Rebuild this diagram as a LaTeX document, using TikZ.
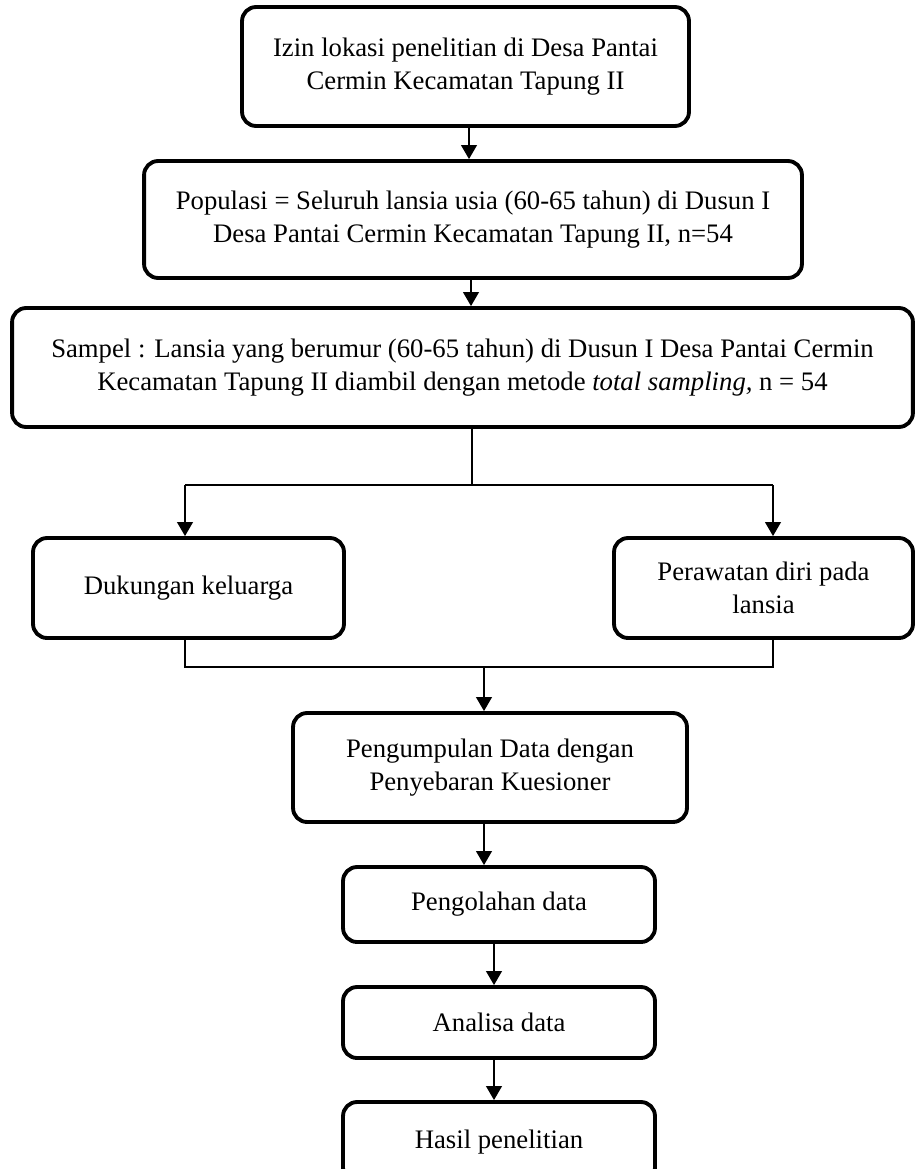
\documentclass[tikz,border=0pt]{standalone}
\usepackage{fontspec}
\setmainfont{Liberation Serif}
\usetikzlibrary{arrows.meta}

\begin{document}
\begin{tikzpicture}[x=0.02cm, y=-0.02cm,
    box/.style={draw, line width=2.2pt, rounded corners=8pt, align=center,
      inner sep=0pt, font=\fontsize{15.2}{18.5}\selectfont},
    link/.style={line width=1pt},
    arr/.style={link, -{Triangle[length=8pt,width=9pt]}}]
  \clip (0,0) rectangle (915,1169);

  % Boxes
  \node[box, minimum width=8.94cm, minimum height=2.38cm] (izin) at (465.5,66.5)
    {Izin lokasi penelitian di Desa Pantai\\Cermin Kecamatan Tapung II};
  \node[box, minimum width=13.16cm, minimum height=2.34cm] (populasi) at (473,219.5)
    {Populasi = Seluruh lansia usia (60-65 tahun) di Dusun I\\Desa Pantai Cermin Kecamatan Tapung II, n=54};
  \node[box, minimum width=18.02cm, minimum height=2.38cm] (sampel) at (462.5,367.5)
    {Sampel : Lansia yang berumur (60-65 tahun) di Dusun I Desa Pantai Cermin\\
     Kecamatan Tapung II diambil dengan metode \textit{total sampling,} n = 54};
  \node[box, minimum width=6.22cm, minimum height=2cm] (dukungan) at (188.5,588)
    {Dukungan keluarga};
  \node[box, minimum width=5.98cm, minimum height=2cm] (perawatan) at (763.5,588)
    {Perawatan diri pada\\lansia};
  \node[box, minimum width=7.88cm, minimum height=2.18cm] (kumpul) at (490,767.5)
    {Pengumpulan Data dengan\\Penyebaran Kuesioner};
  \node[box, minimum width=6.24cm, minimum height=1.5cm] (olah) at (499,904.5)
    {Pengolahan data};
  \node[box, minimum width=6.24cm, minimum height=1.42cm] (analisa) at (499,1022.5)
    {Analisa data};
  \node[box, minimum width=6.24cm, minimum height=1.6cm] (hasil) at (499,1142)
    {Hasil penelitian};

  % Branch points
  \coordinate (split) at (472,485);
  \coordinate (colL) at (185,485);
  \coordinate (colR) at (773,485);
  \coordinate (join) at (484,667);
  \coordinate (stem) at (494,0);

  % Connectors
  \draw[arr] ([xshift=0.07cm]izin.south) -- ([xshift=0.07cm]izin.south |- populasi.north);
  \draw[arr] ([xshift=-0.04cm]populasi.south) -- ([xshift=-0.04cm]populasi.south |- sampel.north);
  \draw[link] (sampel.south -| split) -- (split);
  \draw[link] (colL) -- (colR);
  \draw[arr] (colL) -- (colL |- dukungan.north);
  \draw[arr] (colR) -- (colR |- perawatan.north);
  \draw[link] (colL |- dukungan.south) -- (colL |- join) -- (colR |- join) -- (colR |- perawatan.south);
  \draw[arr] (join) -- (join |- kumpul.north);
  \draw[arr] (kumpul.south -| join) -- (olah.north -| join);
  \draw[arr] (olah.south -| stem) -- (analisa.north -| stem);
  \draw[arr] (analisa.south -| stem) -- (hasil.north -| stem);
\end{tikzpicture}
\end{document}
